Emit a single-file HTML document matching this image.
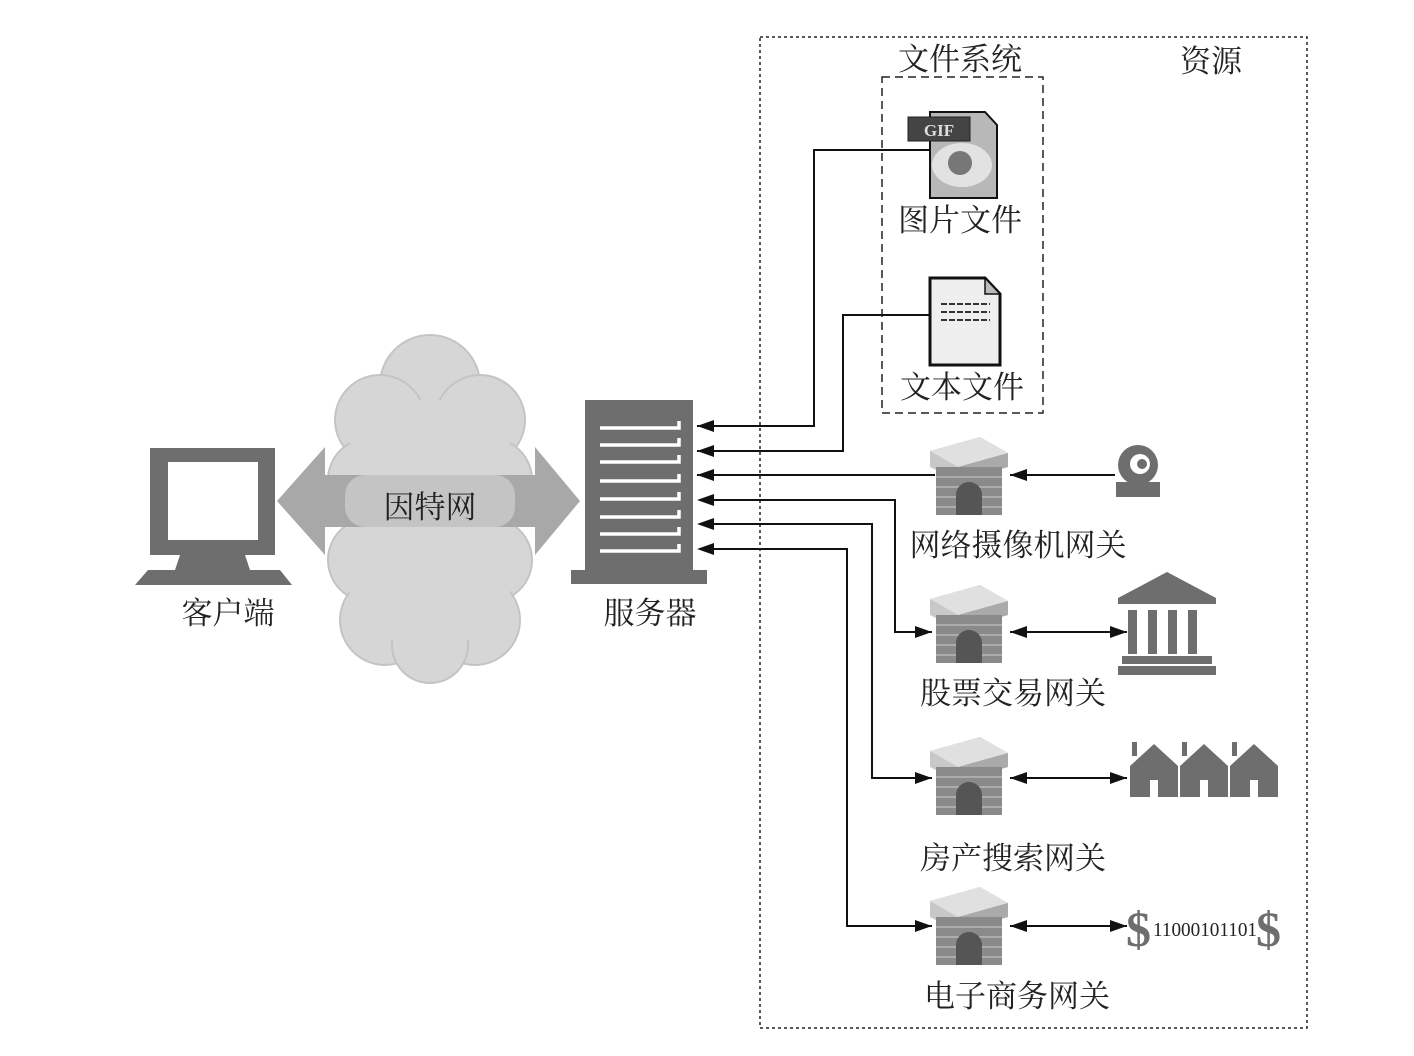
<!DOCTYPE html>
<html><head><meta charset="utf-8"><style>
html,body{margin:0;padding:0;background:#fff;}
svg{display:block;}
text{font-family:"Liberation Serif","Noto Serif CJK SC","Noto Sans CJK SC",serif;fill:#222;}
</style></head><body>
<svg width="1414" height="1056" viewBox="0 0 1414 1056" xmlns="http://www.w3.org/2000/svg">
<defs>
<marker id="ah" markerWidth="18" markerHeight="14" refX="17" refY="6" orient="auto" markerUnits="userSpaceOnUse">
<path d="M0,0 L17,6 L0,12 Z" fill="#111"/>
</marker>
<g id="gw">
 <polygon points="0,14 50,0 78,16 78,30 28,44 0,30" fill="#c8c8c8"/>
 <polygon points="0,14 50,0 78,16 28,30" fill="#e0e0e0"/>
 <polygon points="28,30 78,16 78,30 28,44" fill="#aaa"/>
 <rect x="6" y="30" width="66" height="48" fill="#8a8a8a"/>
 <g stroke="#b8b8b8" stroke-width="1.5">
  <line x1="6" y1="40" x2="72" y2="40"/><line x1="6" y1="50" x2="72" y2="50"/><line x1="6" y1="60" x2="72" y2="60"/><line x1="6" y1="70" x2="72" y2="70"/>
 </g>
 <path d="M26,78 L26,58 A13,13 0 0 1 52,58 L52,78 Z" fill="#555"/>
</g>
</defs>

<rect x="760" y="37" width="547" height="991" fill="none" stroke="#222" stroke-width="1.5" stroke-dasharray="3,3"/>
<rect x="882" y="77" width="161" height="336" fill="none" stroke="#222" stroke-width="1.5" stroke-dasharray="8,5"/>
<text x="960" y="70" font-size="31" text-anchor="middle">文件系统</text>
<text x="1211" y="72" font-size="31" text-anchor="middle">资源</text>

<!-- GIF icon -->
<polygon points="930,112 985,112 997,125 997,198 930,198" fill="#b8b8b8" stroke="#111" stroke-width="2"/>
<ellipse cx="962" cy="165" rx="30" ry="22" fill="#e2e2e2"/>
<circle cx="960" cy="163" r="12" fill="#777"/>
<rect x="908" y="117" width="62" height="24" fill="#444" stroke="#222"/>
<text x="939" y="136" font-size="17" font-family="Liberation Sans,sans-serif" text-anchor="middle" font-weight="bold" style="fill:#ddd">GIF</text>
<text x="960" y="231" font-size="31" text-anchor="middle">图片文件</text>

<!-- text file icon -->
<polygon points="930,278 985,278 1000,294 1000,365 930,365" fill="#eee" stroke="#111" stroke-width="3"/>
<polygon points="985,278 985,294 1000,294" fill="#bbb" stroke="#111" stroke-width="1.5"/>
<g stroke="#333" stroke-width="2" stroke-dasharray="6,2">
<line x1="941" y1="304" x2="990" y2="304"/><line x1="941" y1="312" x2="990" y2="312"/><line x1="941" y1="320" x2="990" y2="320"/>
</g>
<text x="962" y="398" font-size="31" text-anchor="middle">文本文件</text>

<!-- cloud -->
<g fill="#d6d6d6" stroke="#c4c4c4" stroke-width="2">
<circle cx="430" cy="385" r="50"/><circle cx="380" cy="420" r="45"/><circle cx="480" cy="420" r="45"/>
<circle cx="370" cy="480" r="42"/><circle cx="490" cy="480" r="42"/>
<circle cx="370" cy="560" r="42"/><circle cx="490" cy="560" r="42"/>
<circle cx="385" cy="620" r="45"/><circle cx="475" cy="620" r="45"/><circle cx="430" cy="645" r="38"/>
</g>
<rect x="350" y="400" width="160" height="240" fill="#d6d6d6"/>
<polygon points="277,501 325,447 325,475 535,475 535,447 580,501 535,555 535,527 325,527 325,555" fill="#a8a8a8"/>
<rect x="345" y="475" width="170" height="52" fill="#c4c4c4" rx="20"/>
<text x="430" y="518" font-size="31" text-anchor="middle">因特网</text>

<!-- computer -->
<rect x="150" y="448" width="125" height="107" fill="#6e6e6e"/>
<rect x="168" y="462" width="90" height="78" fill="#fff"/>
<polygon points="180,555 245,555 250,570 175,570" fill="#6e6e6e"/>
<polygon points="148,570 280,570 292,585 135,585" fill="#6e6e6e"/>
<text x="228" y="624" font-size="31" text-anchor="middle">客户端</text>

<!-- server -->
<rect x="585" y="400" width="108" height="172" fill="#6e6e6e"/>
<rect x="571" y="570" width="136" height="14" fill="#6e6e6e"/>
<g stroke="#fff" stroke-width="3.5" fill="none">
<path d="M600,428 H679 V421"/><path d="M600,445 H679 V438"/><path d="M600,462 H679 V455"/><path d="M600,481 H679 V474"/>
<path d="M600,499 H679 V492"/><path d="M600,517 H679 V510"/><path d="M600,534 H679 V527"/><path d="M600,551 H679 V544"/>
</g>
<text x="650" y="624" font-size="31" text-anchor="middle">服务器</text>

<!-- connectors -->
<g stroke="#111" stroke-width="2" fill="none">
<polyline points="930,150 814,150 814,426 697,426" marker-end="url(#ah)"/>
<polyline points="930,315 843,315 843,451 697,451" marker-end="url(#ah)"/>
<polyline points="935,475 697,475" marker-end="url(#ah)"/>
<polyline points="712,500 895,500 895,632 932,632" marker-end="url(#ah)"/>
<polyline points="712,524 872,524 872,778 932,778" marker-end="url(#ah)"/>
<polyline points="712,549 847,549 847,926 932,926" marker-end="url(#ah)"/>
<line x1="1115" y1="475" x2="1010" y2="475" marker-end="url(#ah)"/>
<line x1="1060" y1="632" x2="1010" y2="632" marker-end="url(#ah)"/><line x1="1060" y1="632" x2="1127" y2="632" marker-end="url(#ah)"/>
<line x1="1060" y1="778" x2="1010" y2="778" marker-end="url(#ah)"/><line x1="1060" y1="778" x2="1127" y2="778" marker-end="url(#ah)"/>
<line x1="1060" y1="926" x2="1010" y2="926" marker-end="url(#ah)"/><line x1="1060" y1="926" x2="1127" y2="926" marker-end="url(#ah)"/>
</g>
<g fill="#111">
<polygon points="697,500 714,494 714,506"/><polygon points="697,524 714,518 714,530"/><polygon points="697,549 714,543 714,555"/>
</g>

<use href="#gw" x="930" y="437"/>
<use href="#gw" x="930" y="585"/>
<use href="#gw" x="930" y="737"/>
<use href="#gw" x="930" y="887"/>
<text x="1018" y="556" font-size="31" text-anchor="middle">网络摄像机网关</text>
<text x="1013" y="704" font-size="31" text-anchor="middle">股票交易网关</text>
<text x="1013" y="869" font-size="31" text-anchor="middle">房产搜索网关</text>
<text x="1017" y="1007" font-size="31" text-anchor="middle">电子商务网关</text>

<!-- camera -->
<circle cx="1138" cy="465" r="20" fill="#6e6e6e"/>
<circle cx="1140" cy="464" r="10" fill="#fff"/>
<circle cx="1142" cy="464" r="5" fill="#6e6e6e"/>
<rect x="1116" y="482" width="44" height="15" fill="#6e6e6e"/>

<!-- bank -->
<polygon points="1167,572 1118,598 1216,598" fill="#6e6e6e"/>
<rect x="1118" y="598" width="98" height="6" fill="#6e6e6e"/>
<g fill="#6e6e6e"><rect x="1128" y="610" width="9" height="44"/><rect x="1148" y="610" width="9" height="44"/><rect x="1168" y="610" width="9" height="44"/><rect x="1188" y="610" width="9" height="44"/></g>
<rect x="1122" y="656" width="90" height="8" fill="#6e6e6e"/>
<rect x="1118" y="666" width="98" height="9" fill="#6e6e6e"/>

<!-- houses -->
<g fill="#6e6e6e">
<polygon points="1130,766 1154,744 1178,766 1178,797 1130,797"/>
<polygon points="1180,766 1204,744 1228,766 1228,797 1180,797"/>
<polygon points="1230,766 1254,744 1278,766 1278,797 1230,797"/>
<rect x="1132" y="742" width="5" height="14"/><rect x="1182" y="742" width="5" height="14"/><rect x="1232" y="742" width="5" height="14"/>
</g>
<g fill="#fff"><rect x="1150" y="780" width="8" height="17"/><rect x="1200" y="780" width="8" height="17"/><rect x="1250" y="780" width="8" height="17"/></g>

<!-- dollar -->
<text x="1126" y="946" font-size="50" font-weight="bold" style="fill:#6e6e6e">$</text>
<text x="1153" y="936" font-size="20" textLength="104" lengthAdjust="spacingAndGlyphs">11000101101</text>
<text x="1256" y="946" font-size="50" font-weight="bold" style="fill:#6e6e6e">$</text>
</svg>
</body></html>
